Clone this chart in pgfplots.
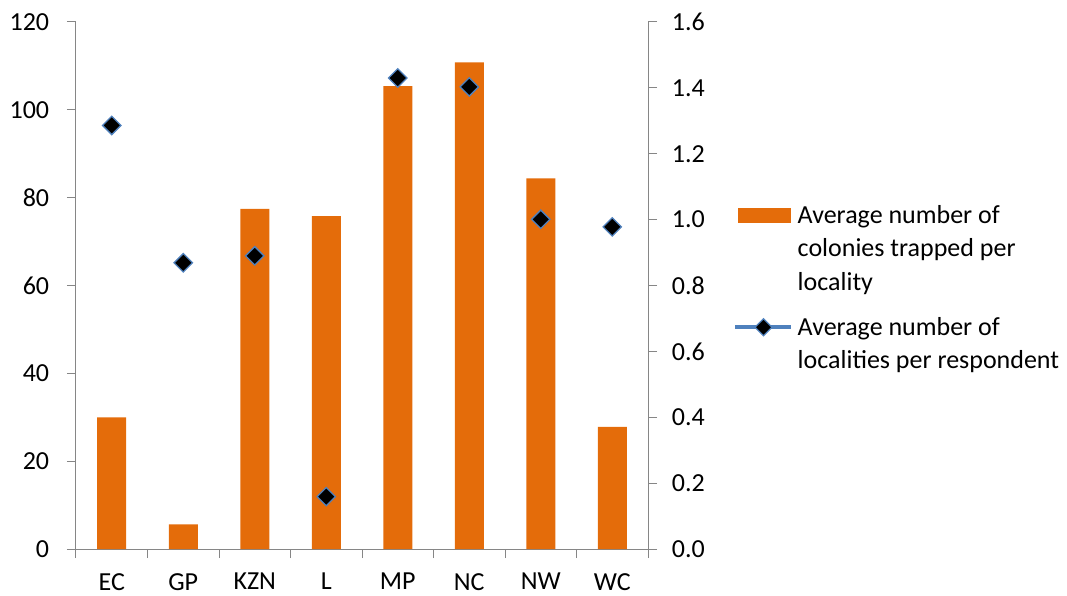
\documentclass[border=0pt]{standalone}
\usepackage{pgfplots}
\pgfplotsset{compat=1.18}
\usepackage{fontspec}
\setmainfont{Carlito}

\definecolor{barorange}{HTML}{E46C0A}
\definecolor{markblue}{HTML}{4F81BD}
\definecolor{axisgray}{HTML}{868686}

\begin{document}
\fontsize{26}{33.5}\selectfont
\begin{tikzpicture}[x=1pt,y=1pt]
\path[use as bounding box] (-76,-46) rectangle (991,549);

% left axis: average colonies trapped per locality (bars)
\begin{axis}[
  at={(0,0)}, anchor=south west,
  scale only axis, width=572pt, height=527pt,
  xmin=-0.5, xmax=7.5, ymin=0, ymax=120,
  axis x line*=bottom, axis y line*=left,
  axis line style={draw=axisgray, line width=1pt, -},
  xtick={0,...,7},
  xticklabels={EC,GP,KZN,L,MP,NC,NW,WC},
  minor xtick={-0.5,0.5,...,7.5},
  ytick={0,20,...,120},
  tick align=outside,
  major tick length=9pt, minor tick length=9pt,
  x tick style={draw=none},
  minor x tick style={draw=axisgray, line width=1pt},
  y tick style={draw=axisgray, line width=1pt},
  /pgf/number format/assume math mode=true,
  tick label style={font=\fontsize{26}{30}\selectfont, text=black},
  xticklabel style={inner sep=1pt, yshift=-14pt},
  yticklabel style={xshift=-9pt},
  clip=false,
]
\addplot[ybar, bar width=29pt, fill=barorange, draw=none, bar shift=0pt]
  coordinates {(0,30.0) (1,5.62) (2,77.45) (3,75.8) (4,105.4) (5,110.8) (6,84.4) (7,27.8)};
\end{axis}

% right axis: average localities per respondent (markers)
\begin{axis}[
  at={(0,0)}, anchor=south west,
  scale only axis, width=572pt, height=527pt,
  xmin=-0.5, xmax=7.5, ymin=0, ymax=1.6,
  axis x line=none, axis y line*=right,
  axis line style={draw=axisgray, line width=1pt, -},
  ytick={0,0.2,...,1.6},
  /pgf/number format/fixed,
  /pgf/number format/fixed zerofill,
  /pgf/number format/precision=1,
  tick align=outside,
  major tick length=9pt,
  y tick style={draw=axisgray, line width=1pt},
  /pgf/number format/assume math mode=true,
  tick label style={font=\fontsize{26}{30}\selectfont, text=black},
  yticklabel style={anchor=west, xshift=6pt},
  clip=false,
  legend style={
    draw=none, fill=none, inner sep=0pt,
    at={(axis description cs:1.1486,0.653)}, anchor=north west,
    column sep=4pt, row sep=23pt,
    nodes={inner sep=0pt, align=left, font=\fontsize{26}{33.5}\selectfont},
    cells={anchor=north west},
  },
]
\addlegendimage{legend image code/.code={
  \fill[barorange] (3pt,-3pt) rectangle (55pt,-17pt);}}
\addlegendentry{Average number of\\colonies trapped per\\locality}
\addplot[only marks, mark=square*, mark size=6.5pt,
  mark options={rotate=45, fill=black, draw=markblue, line width=1.3pt},
  legend image code/.code={
    \draw[markblue, line width=4.5pt] (0pt,-10pt) -- (56pt,-10pt);
    \draw[mark=square*, mark size=6pt, mark options={rotate=45, fill=black, draw=markblue, line width=1.3pt}]
      plot coordinates {(28pt,-10pt)};}]
  coordinates {(0,1.286) (1,0.869) (2,0.890) (3,0.159) (4,1.430) (5,1.403) (6,1.001) (7,0.978)};
\addlegendentry{Average number of\\localities per respondent}
\end{axis}
\end{tikzpicture}
\end{document}
